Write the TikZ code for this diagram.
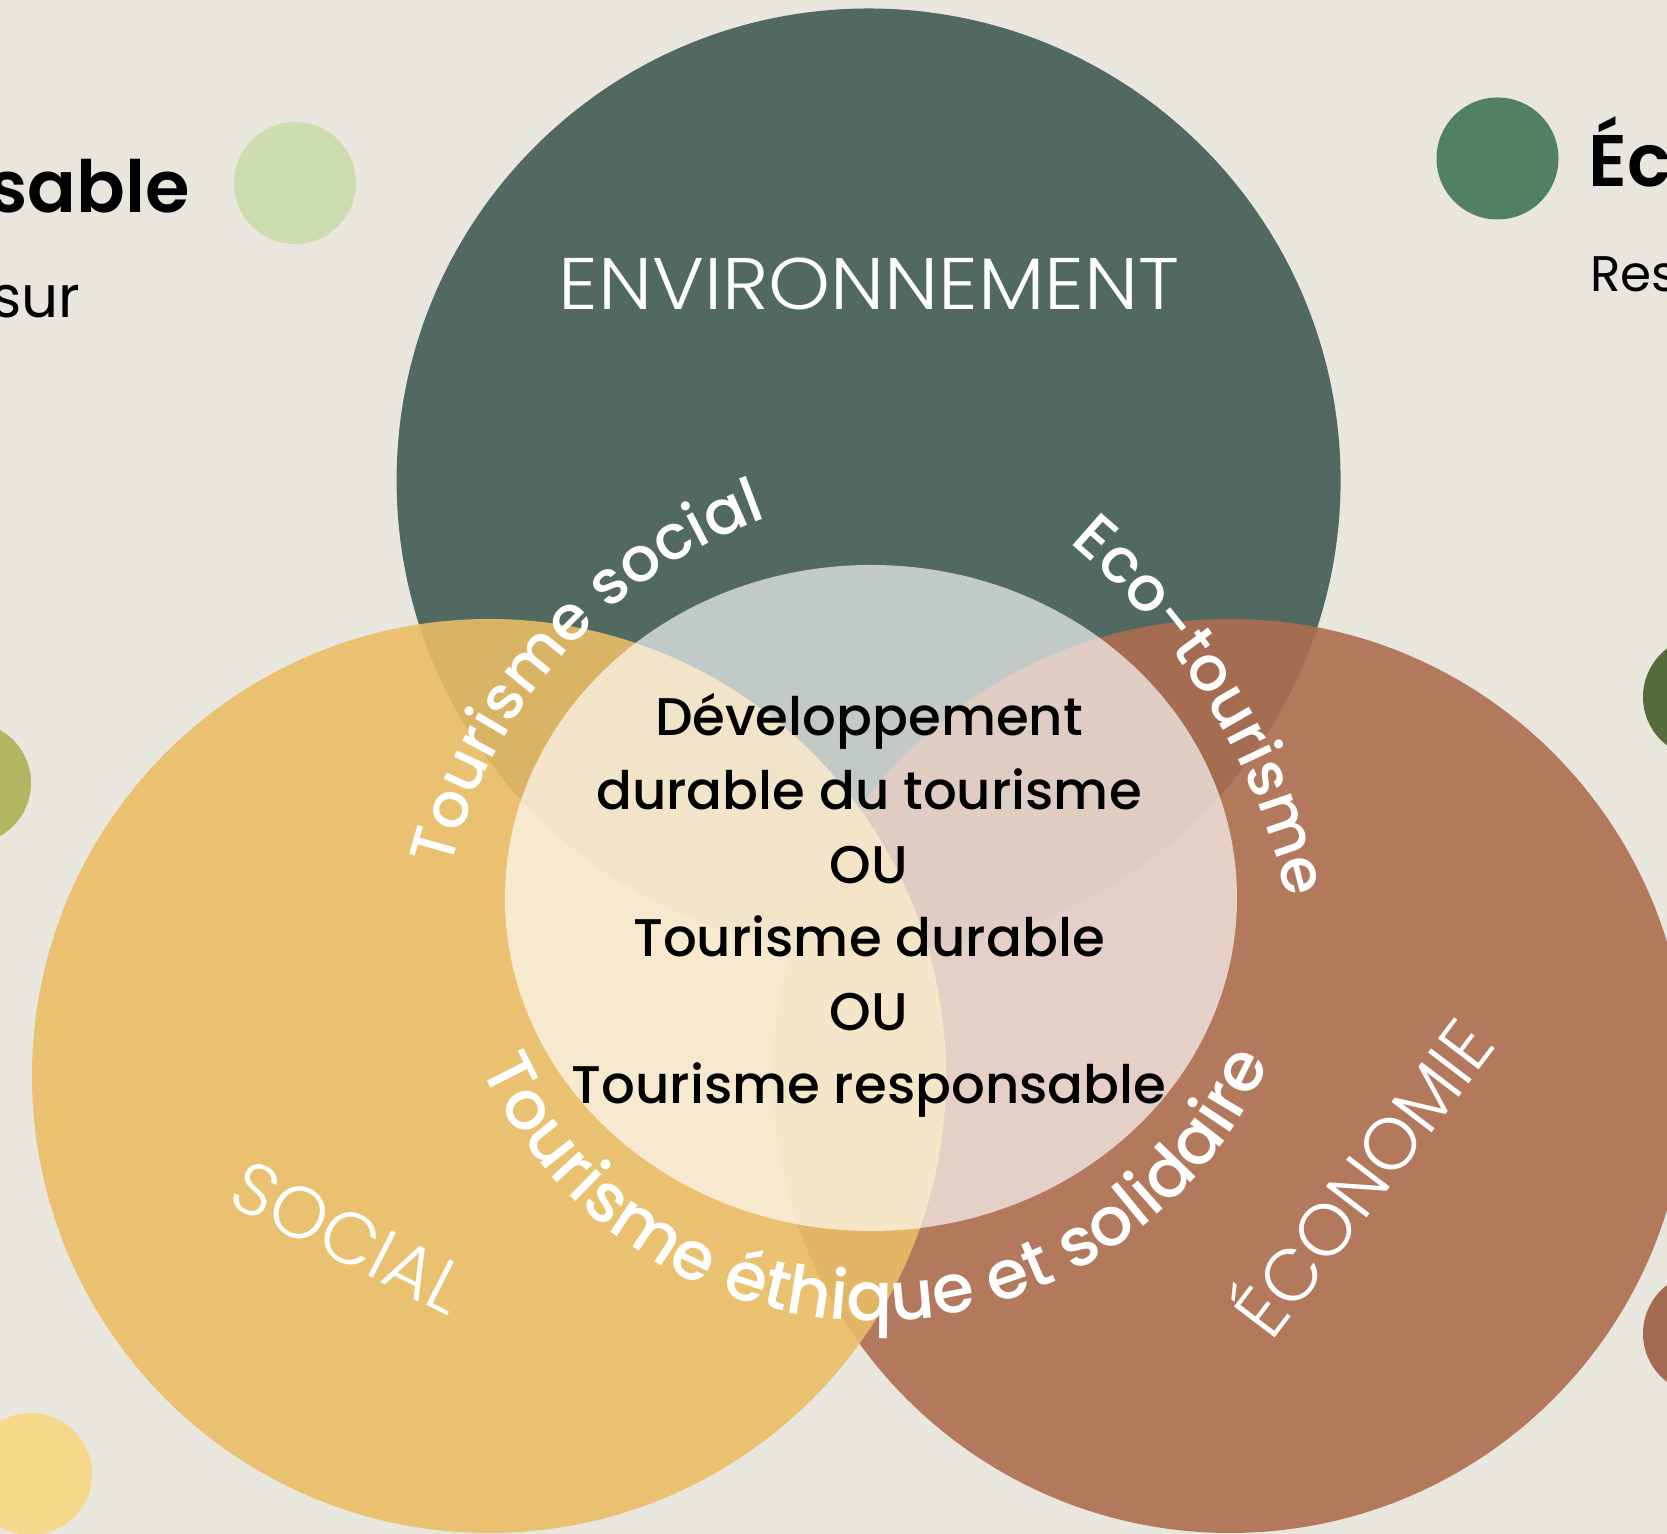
\documentclass[tikz,border=0pt]{standalone}
\usepackage{fontspec}
\setmainfont{Poppins}
\newfontfamily\plightw{Poppins Light}[FakeStretch=1.08]
\newfontfamily\plight{Poppins Light}
\newfontfamily\pmed{Poppins Medium}
\newfontfamily\psemi{Poppins SemiBold}
\usetikzlibrary{decorations.text}
\definecolor{bgc}{HTML}{E9E7DD}
\definecolor{envc}{HTML}{526961}
\definecolor{socc}{HTML}{E9BD66}
\definecolor{ecoc}{HTML}{AE6E50}
\definecolor{dotlg}{HTML}{CDDDAF}
\definecolor{dotdg}{HTML}{518062}
\definecolor{dotol}{HTML}{B0B760}
\definecolor{dotdo}{HTML}{566B3C}
\definecolor{dotbr}{HTML}{A46B53}
\definecolor{dotye}{HTML}{F5D98B}
\newcommand\arcfnt{\pmed\fontsize{31}{36}\selectfont\color{white}}
\newcommand\arcfntb{\pmed\fontsize{34}{40}\selectfont\color{white}}
\tikzset{
  dimlabel/.style={text=white, inner sep=0pt, font=\plight\fontsize{36.5}{42}\selectfont},
  ctrline/.style={text=black, inner sep=0pt, anchor=base, font=\pmed\fontsize{26.5}{32}\selectfont},
  arctext/.style={decorate, decoration={text along path, text align=center, text={#1}}}
}
\begin{document}
\begin{tikzpicture}[x=0.5pt,y=0.5pt]
\useasboundingbox (0,0) rectangle (1667,1534);
\clip (0,0) rectangle (1667,1534);
\fill[bgc] (0,0) rectangle (1667,1534);
% small dots
\fill[dotlg] (295,1351) circle[radius=61];
\fill[dotdg] (1497.5,1375.5) circle[radius=61];
\fill[dotol] (-30,751) circle[radius=61];
\fill[dotdo] (1704,837) circle[radius=61];
\fill[dotbr] (1704,200.5) circle[radius=61];
\fill[dotye] (31,60) circle[radius=61];
% big circles
\fill[envc] (868.6,1053.5) circle[radius=472];
\fill[ecoc, fill opacity=0.9] (1230,458) circle[radius=457];
\fill[socc, fill opacity=0.9] (489,458) circle[radius=457];
\fill[white, fill opacity=0.65] (871,636) ellipse[x radius=366, y radius=333];
% side texts
\node[inner sep=0pt, anchor=base east, font=\psemi\fontsize{36}{42}\selectfont] (t1) at (190,1321) {sable};
\node[inner sep=0pt, anchor=base east, font=\fontsize{29}{34}\selectfont] (t2) at (81,1216) {sur};
\node[inner sep=0pt, anchor=base west, font=\psemi\fontsize{36.5}{42}\selectfont] (t3) at (1588,1347) {Éc};
\node[inner sep=0pt, anchor=base west, font=\fontsize{25}{30}\selectfont] (t4) at (1590,1242) {Res};
% dimension labels
\node[dimlabel, anchor=base, font=\plightw\fontsize{36.5}{42}\selectfont] (env) at (869,1224) {ENVIRONNEMENT};
\node[dimlabel, anchor=base, rotate=-27] (soc) at (337,274) {SOCIAL};
\node[dimlabel, anchor=base, rotate=52.7] (eco) at (1385,340) {ÉCONOMIE};
% centre text
\node[ctrline] (c1) at (869,798) {Développement};
\node[ctrline] (c2) at (869,724.4) {durable du tourisme};
\node[ctrline] (c3) at (869,650.8) {OU};
\node[ctrline] (c4) at (869,577.2) {Tourisme durable};
\node[ctrline] (c5) at (869,503.6) {OU};
\node[ctrline] (c6) at (869,430) {Tourisme responsable};
% arc texts
\coordinate (ts) at (936.6,545.9);
\coordinate (ec) at (652.4,492.7);
\coordinate (te) at (874,644);
\path[arctext={|\arcfnt|Tourisme social}] (ts) ++(178:500) arc[start angle=178, end angle=98, radius=500];
\path[arctext={|\arcfnt|Eco-tourisme}] (ec) ++(61.35:650) arc[start angle=61.35, end angle=1.35, radius=650];
\path[arctext={|\arcfntb|Tourisme éthique et solidaire}] (te) ++(185.45:431) arc[start angle=185.45, end angle=355.45, radius=431];
\end{tikzpicture}
\end{document}
